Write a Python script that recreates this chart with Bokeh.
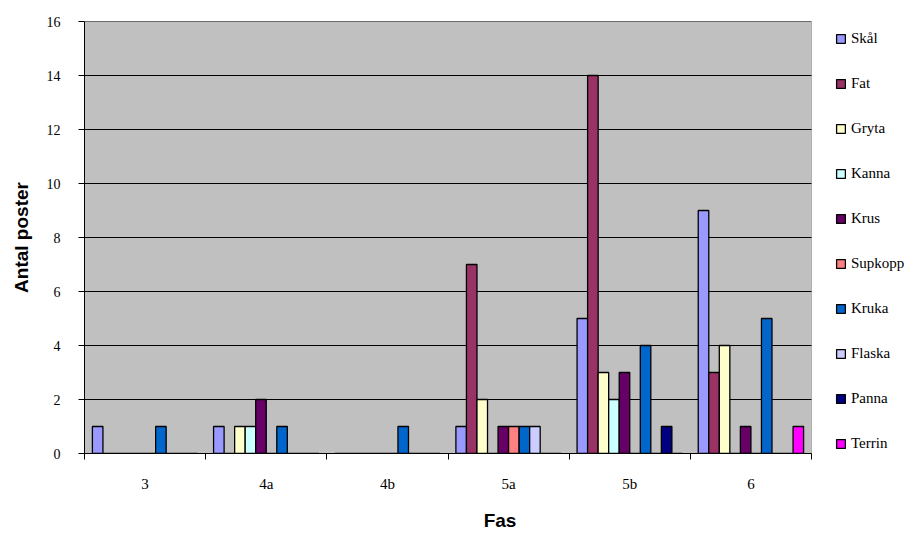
from bokeh.plotting import figure
from bokeh.models import (Range1d, LinearAxis, FixedTicker, Legend, LegendItem, ColumnDataSource,
                          BoxAnnotation)
from bokeh.transform import dodge
from bokeh.embed import file_html
from bokeh.resources import INLINE

categories = ["3", "4a", "4b", "5a", "5b", "6"]
series = ["Skål", "Fat", "Gryta", "Kanna", "Krus", "Supkopp", "Kruka", "Flaska", "Panna", "Terrin"]
colors = ["#9999FF", "#993366", "#FFFFCC", "#CCFFFF", "#660066", "#FF8080", "#0066CC", "#CCCCFF", "#000080", "#FF00FF"]

skal    = [1, 1, 0, 1, 5, 9]
fat     = [0, 0, 0, 7, 14, 3]
gryta   = [0, 1, 0, 2, 3, 4]
kanna   = [0, 1, 0, 0, 2, 0]
krus    = [0, 2, 0, 1, 3, 1]
supkopp = [0, 0, 0, 1, 0, 0]
kruka   = [1, 1, 1, 1, 4, 5]
flaska  = [0, 0, 0, 1, 0, 0]
panna   = [0, 0, 0, 0, 1, 0]
terrin  = [0, 0, 0, 0, 0, 1]
values = [skal, fat, gryta, kanna, krus, supkopp, kruka, flaska, panna, terrin]

y_ticks = [0, 2, 4, 6, 8, 10, 12, 14, 16]
y_max = 16

serif = "Liberation Serif"
sans = "Liberation Sans"

n = len(categories)
centers = [i + 0.5 for i in range(n)]

W, H = 915, 533
left_b, plot_w = 84, 727          # plot area width in pixels
frame_w = W - left_b
x_end = n * frame_w / plot_w      # extra room on the right for the legend

p = figure(x_range=Range1d(0, x_end), y_range=Range1d(0, y_max),
           width=W, height=H, output_backend="svg", toolbar_location=None,
           x_axis_location=None, min_border_left=left_b, min_border_right=0,
           min_border_top=21, min_border_bottom=79)
p.border_fill_color = "white"
p.background_fill_color = "white"
p.outline_line_color = None
p.xgrid.grid_line_color = None
p.ygrid.grid_line_color = None

# plot area (gray, with border)
p.add_layout(BoxAnnotation(left=0, right=n, bottom=0, top=y_max, fill_color="#C0C0C0",
                           fill_alpha=1, line_color="#404040", line_width=1, level="image"))

# gridlines limited to the plot area
gl = p.segment(x0=[0] * len(y_ticks), x1=[n] * len(y_ticks), y0=y_ticks, y1=y_ticks,
               line_color="black", line_width=1)
gl.level = "underlay"

w = 1 / 11.5
renderers = []
for i, (name, vals, col) in enumerate(zip(series, values, colors)):
    src = ColumnDataSource(dict(x=centers, v=vals))
    off = (i - 4.5) * w
    r = p.vbar(x=dodge("x", off), top="v", width=w, source=src,
               fill_color=col, line_color="black", line_width=1.3)
    renderers.append(r)

# y axis
p.yaxis.ticker = FixedTicker(ticks=y_ticks)
p.yaxis.axis_label = "Antal poster"
p.yaxis.axis_label_text_font = sans
p.yaxis.axis_label_text_font_style = "bold"
p.yaxis.axis_label_text_font_size = "19px"
p.yaxis.axis_label_text_color = "black"
p.yaxis.axis_label_standoff = 12
p.yaxis.major_label_text_font = serif
p.yaxis.major_label_text_font_size = "14px"
p.yaxis.major_label_text_color = "black"
p.yaxis.major_label_standoff = 18
p.yaxis.major_tick_out = 6
p.yaxis.major_tick_in = 0
p.yaxis.minor_tick_line_color = None
p.yaxis.axis_line_color = "black"
p.yaxis.major_tick_line_color = "black"

# x axes: boundary ticks + category labels
tick_axis = LinearAxis(ticker=FixedTicker(ticks=list(range(n + 1))), bounds=(0, n),
                       major_label_overrides={k: "" for k in range(n + 1)},
                       major_label_text_font_size="1px", major_label_standoff=0,
                       major_tick_out=6, major_tick_in=0, minor_tick_line_color=None,
                       axis_line_color="black", major_tick_line_color="black")
p.add_layout(tick_axis, "below")
label_axis = LinearAxis(ticker=FixedTicker(ticks=centers), bounds=(0, n),
                        major_label_overrides={c: lab for c, lab in zip(centers, categories)},
                        axis_line_color=None, major_tick_line_color=None, minor_tick_line_color=None,
                        major_label_text_font=serif, major_label_text_font_size="15px",
                        major_label_text_color="black",
                        major_label_standoff=10, axis_label="Fas",
                        axis_label_text_font=sans, axis_label_text_font_style="bold",
                        axis_label_text_font_size="19px", axis_label_text_color="black",
                        axis_label_standoff=15)
p.add_layout(label_axis, "below")

legend = Legend(items=[LegendItem(label=s, renderers=[r]) for s, r in zip(series, renderers)],
                location=(751, 1), padding=0, margin=0, border_line_color=None,
                background_fill_alpha=0, glyph_width=11, glyph_height=11,
                label_height=17, spacing=28, label_standoff=5,
                label_text_font=serif, label_text_font_size="15px", label_text_color="black")
p.add_layout(legend, "center")

open("out.html", "w").write(file_html(p, INLINE))
